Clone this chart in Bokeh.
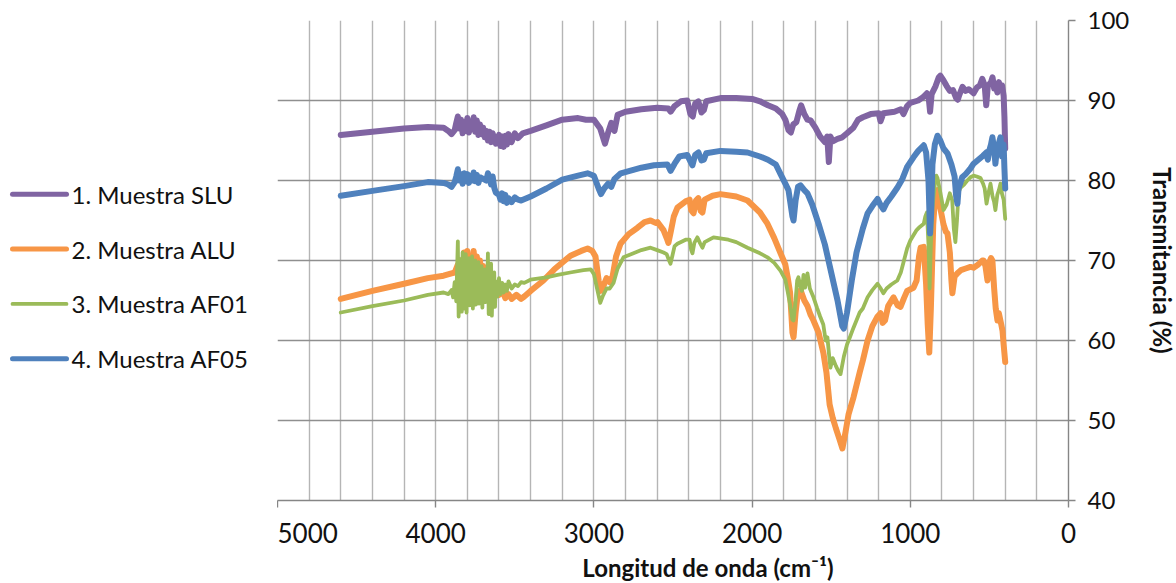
from bokeh.plotting import figure
from bokeh.layouts import row
from bokeh.models import Range1d, SingleIntervalTicker
from bokeh.core.properties import value
from bokeh.embed import file_html
from bokeh.resources import INLINE

# ---------------- data ----------------
labels = ["1. Muestra SLU", "2. Muestra ALU", "3. Muestra AF01", "4. Muestra AF05"]
colors = ["#8064A2", "#F79646", "#9BBB59", "#4F81BD"]

slu_x = [4600, 4400, 4200, 4050, 3950, 3920, 3900, 3880, 3870, 3860, 3850, 3840, 3830, 3820, 3810, 3800,
         3790, 3780, 3770, 3760, 3750, 3740, 3730, 3720, 3710, 3700, 3690, 3680, 3670, 3660, 3650, 3640,
         3620, 3600, 3590, 3580, 3570, 3560, 3550, 3540, 3520, 3500, 3480, 3450, 3400, 3300, 3200, 3100,
         3050, 3000, 2960, 2930, 2910, 2890, 2870, 2850, 2800, 2700, 2600, 2530, 2515, 2490, 2450, 2410,
         2390, 2375, 2360, 2340, 2320, 2305, 2290, 2200, 2100, 2000, 1950, 1900, 1850, 1810, 1790, 1770,
         1755, 1740, 1720, 1700, 1690, 1670, 1650, 1630, 1600, 1570, 1540, 1525, 1515, 1505, 1490, 1460,
         1430, 1400, 1360, 1330, 1300, 1250, 1200, 1188, 1170, 1100, 1060, 1043, 1020, 1000, 950, 920,
         895, 885, 875, 865, 840, 820, 810, 790, 770, 750, 730, 710, 700, 690, 670, 650, 630, 600, 580,
         560, 545, 530, 520, 510, 490, 480, 470, 460, 450, 440, 430, 420, 410, 405, 400]
slu_y = [85.7, 86.1, 86.5, 86.7, 86.6, 86.2, 85.8, 86.3, 87.2, 88.0, 86.5, 87.6, 85.9, 87.3, 86.2, 87.8,
         86.0, 87.2, 86.4, 87.9, 86.1, 87.5, 85.7, 87.0, 85.8, 86.6, 85.4, 86.2, 85.0, 86.1, 84.8, 85.9,
         84.6, 85.7, 84.3, 85.5, 84.2, 85.6, 84.5, 85.8, 84.8, 85.9, 85.3, 85.9, 86.2, 86.9, 87.6, 87.8,
         87.6, 87.6, 86.5, 84.6, 86.0, 87.2, 86.2, 88.2, 88.6, 88.9, 89.1, 89.0, 88.6, 89.3, 89.9, 90.0,
         88.3, 88.0, 89.6, 89.9, 88.5, 88.8, 89.9, 90.3, 90.3, 90.2, 89.9, 89.4, 89.0, 88.3, 87.6, 86.3,
         86.0, 87.0, 87.3, 88.8, 89.4, 88.3, 87.6, 87.5, 86.6, 85.5, 84.8, 85.5, 82.3, 85.5, 84.9, 85.2,
         85.4, 85.9, 86.6, 87.6, 87.9, 88.3, 88.4, 87.4, 88.4, 88.6, 88.9, 88.3, 89.3, 89.7, 90.0, 90.4,
         90.9, 90.6, 88.6, 90.8, 91.8, 92.9, 93.1, 92.5, 91.8, 91.2, 91.3, 90.3, 90.1, 90.7, 91.7, 91.2,
         91.4, 90.9, 91.6, 91.9, 92.7, 91.9, 89.4, 91.8, 92.3, 92.9, 91.5, 92.0, 91.0, 92.3, 91.4, 91.9,
         90.6, 88.0, 84.0]

alu_x = [4600, 4400, 4200, 4050, 3950, 3900, 3880, 3860, 3850, 3840, 3830, 3820, 3810, 3800, 3790, 3780,
         3770, 3760, 3750, 3740, 3730, 3720, 3710, 3700, 3690, 3680, 3670, 3660, 3640, 3620, 3600, 3580,
         3560, 3540, 3520, 3490, 3460, 3440, 3400, 3319, 3250, 3148, 3080, 3040, 3010, 2990, 2970, 2958,
         2940, 2920, 2900, 2882, 2860, 2832, 2780, 2724, 2680, 2642, 2610, 2598, 2560, 2540, 2529, 2515,
         2495, 2472, 2420, 2395, 2385, 2370, 2355, 2340, 2325, 2314, 2300, 2250, 2200, 2100, 2029, 1950,
         1903, 1860, 1820, 1790, 1776, 1760, 1745, 1738, 1725, 1710, 1694, 1670, 1650, 1630, 1612, 1580,
         1549, 1530, 1510, 1490, 1470, 1450, 1429, 1410, 1390, 1359, 1320, 1300, 1270, 1240, 1207, 1188,
         1175, 1160, 1140, 1106, 1080, 1062, 1040, 1020, 980, 960, 945, 935, 915, 900, 890, 880, 870, 855,
         845, 828, 810, 790, 775, 765, 750, 740, 734, 720, 702, 680, 650, 620, 600, 570, 545, 537, 525,
         512, 500, 490, 481, 470, 460, 449, 440, 425, 417, 410, 400]
alu_y = [65.2, 66.2, 67.1, 67.8, 68.1, 68.4, 68.5, 69.5, 68.2, 70.0, 68.0, 71.0, 68.8, 71.2, 68.4, 70.6,
         68.0, 71.2, 68.5, 70.5, 67.6, 70.0, 67.4, 69.3, 67.2, 68.4, 66.8, 67.8, 66.4, 66.9, 65.7, 66.3,
         65.3, 65.8, 65.2, 65.7, 65.2, 65.5, 66.2, 67.5, 68.9, 70.6, 71.2, 71.5, 71.2, 70.5, 67.5, 66.2,
         66.8, 67.8, 67.3, 68.0, 70.5, 72.1, 73.3, 74.1, 74.8, 75.0, 74.7, 74.8, 73.8, 72.8, 72.2, 73.5,
         75.5, 76.6, 77.4, 77.6, 76.3, 75.9, 77.5, 77.8, 76.2, 76.0, 77.6, 78.1, 78.3, 78.0, 77.5, 76.0,
         74.6, 72.8, 70.9, 69.5, 68.0, 66.0, 61.0, 60.4, 63.5, 66.0, 66.3, 65.0, 64.3, 63.2, 62.5, 61.0,
         58.4, 56.0, 52.0, 50.3, 49.0, 47.8, 46.5, 48.5, 50.8, 52.9, 56.0, 57.5, 60.0, 61.8, 63.0, 63.4,
         62.2, 62.5, 64.3, 65.4, 64.4, 64.2, 65.3, 66.2, 66.6, 67.5, 70.5, 71.6, 71.7, 67.0, 62.0, 58.5,
         64.0, 74.5, 77.5, 78.8, 76.5, 74.5, 73.6, 73.4, 71.0, 67.5, 65.9, 68.0, 68.4, 68.8, 69.0, 69.2,
         69.1, 69.5, 70.0, 70.0, 69.3, 67.5, 69.8, 70.3, 70.0, 66.5, 64.0, 62.5, 63.4, 62.0, 61.2, 59.5,
         57.3]

af01_x = [4600, 4400, 4200, 4050, 3950, 3920, 3900, 3890, 3880, 3870, 3860, 3855, 3850, 3845, 3840, 3835,
          3830, 3825, 3820, 3815, 3810, 3805, 3800, 3795, 3790, 3785, 3780, 3775, 3770, 3765, 3760, 3755,
          3750, 3745, 3740, 3735, 3730, 3725, 3720, 3715, 3710, 3705, 3700, 3695, 3690, 3685, 3680, 3675,
          3670, 3665, 3660, 3655, 3650, 3645, 3640, 3635, 3630, 3625, 3620, 3610, 3600, 3590, 3580, 3570,
          3560, 3550, 3540, 3520, 3500, 3480, 3460, 3440, 3401, 3300, 3230, 3150, 3066, 3020, 3000, 2980,
          2960, 2945, 2920, 2900, 2876, 2850, 2813, 2750, 2700, 2642, 2600, 2560, 2540, 2525, 2516, 2505,
          2490, 2472, 2420, 2395, 2385, 2377, 2365, 2346, 2330, 2314, 2300, 2244, 2150, 2100, 2029, 1950,
          1903, 1860, 1820, 1790, 1776, 1760, 1745, 1738, 1725, 1715, 1707, 1695, 1685, 1675, 1665, 1650,
          1635, 1612, 1590, 1570, 1550, 1535, 1524, 1510, 1505, 1490, 1470, 1455, 1441, 1420, 1400, 1380,
          1359, 1320, 1300, 1270, 1240, 1207, 1190, 1170, 1150, 1120, 1082, 1060, 1040, 1020, 1000, 960,
          940, 915, 905, 895, 885, 878, 870, 860, 845, 835, 828, 810, 790, 770, 750, 735, 725, 715, 705,
          695, 683, 660, 640, 620, 600, 580, 556, 540, 530, 518, 505, 493, 480, 470, 462, 450, 440, 430,
          420, 410, 400]
af01_y = [63.5, 64.3, 65.0, 65.7, 66.0, 65.8, 66.3, 65.4, 67.3, 64.9, 72.4, 63.0, 70.2, 64.2, 68.9, 63.6,
          71.0, 65.0, 69.5, 64.0, 70.8, 63.5, 68.5, 65.5, 70.3, 64.4, 69.0, 65.1, 70.5, 64.0, 69.4, 65.3,
          70.0, 64.5, 68.5, 65.0, 69.8, 64.6, 68.2, 65.4, 69.3, 64.1, 68.0, 65.3, 68.9, 64.8, 67.6, 65.7,
          70.9, 63.3, 68.3, 64.0, 69.6, 63.1, 67.7, 65.1, 68.5, 64.2, 67.4, 65.5, 67.8, 65.8, 67.2, 66.0,
          67.0, 66.2, 67.4, 66.5, 67.0, 66.8, 67.3, 67.2, 67.6, 67.9, 68.2, 68.5, 68.8, 68.9, 68.3, 66.5,
          64.7, 65.5, 66.5, 66.5, 67.2, 69.0, 70.4, 70.9, 71.3, 71.6, 71.3, 71.0, 70.8, 70.0, 69.6, 70.5,
          71.8, 72.1, 72.6, 72.6, 71.3, 70.9, 72.2, 72.9, 72.2, 71.6, 72.3, 72.9, 72.6, 72.3, 71.6, 70.9,
          70.4, 69.7, 68.7, 67.6, 66.2, 64.5, 62.6, 62.5, 65.0, 67.5, 67.9, 66.8, 66.2, 68.2, 66.6, 68.4,
          66.5, 65.4, 64.1, 63.0, 62.0, 60.0, 60.4, 57.5, 56.6, 57.8, 56.8, 56.2, 55.8, 58.0, 59.5, 60.5,
          61.6, 63.5, 64.0, 65.4, 66.3, 67.1, 66.6, 65.9, 66.5, 67.0, 67.5, 68.5, 70.0, 71.5, 72.5, 73.8,
          74.2, 74.6, 75.5, 76.0, 72.0, 66.5, 72.0, 76.5, 79.5, 80.6, 80.3, 78.5, 76.3, 77.0, 78.4, 77.5,
          74.0, 72.3, 75.0, 78.5, 79.1, 79.5, 80.0, 80.4, 80.6, 80.5, 80.3, 79.6, 79.0, 77.1, 78.5, 79.6,
          78.0, 77.3, 76.3, 78.2, 78.8, 79.6, 78.3, 77.6, 75.2]

af05_x = [4600, 4400, 4200, 4050, 3950, 3920, 3900, 3880, 3870, 3860, 3850, 3840, 3830, 3820, 3810, 3800,
          3790, 3780, 3770, 3760, 3750, 3740, 3730, 3720, 3700, 3680, 3670, 3660, 3650, 3640, 3630, 3620,
          3600, 3590, 3580, 3570, 3560, 3550, 3540, 3520, 3500, 3480, 3460, 3400, 3300, 3200, 3100, 3040,
          3000, 2970, 2955, 2935, 2910, 2890, 2870, 2830, 2700, 2620, 2535, 2515, 2490, 2460, 2410, 2390,
          2377, 2360, 2339, 2320, 2305, 2290, 2200, 2100, 2029, 1950, 1900, 1850, 1820, 1790, 1770, 1745,
          1738, 1725, 1710, 1694, 1670, 1650, 1620, 1580, 1540, 1500, 1460, 1430, 1420, 1400, 1370, 1340,
          1300, 1270, 1240, 1207, 1190, 1170, 1150, 1120, 1082, 1050, 1020, 980, 950, 915, 900, 885, 875,
          868, 860, 845, 828, 810, 790, 765, 740, 720, 710, 702, 695, 672, 650, 620, 600, 570, 540, 520,
          510, 500, 490, 481, 470, 462, 455, 445, 430, 420, 410, 405, 400]
af05_y = [78.1, 78.7, 79.3, 79.8, 79.7, 79.5, 79.2, 79.8, 80.5, 81.4, 80.0, 80.8, 79.6, 80.9, 79.9, 80.8,
          79.7, 80.6, 80.0, 81.0, 79.9, 80.7, 79.7, 80.4, 80.2, 80.0, 80.9, 80.3, 79.5, 80.5, 79.1, 78.5,
          78.2, 77.6, 78.4, 77.4, 78.2, 77.2, 77.8, 77.3, 77.9, 77.6, 77.5, 78.0, 79.0, 80.1, 80.6, 80.9,
          80.6, 79.0, 78.3, 79.0, 79.6, 79.2, 80.2, 80.9, 81.6, 81.9, 82.0, 81.2, 82.1, 83.0, 83.2, 82.4,
          81.9, 83.2, 83.5, 82.5, 82.6, 83.4, 83.7, 83.6, 83.5, 83.0, 82.6, 82.0, 80.8, 79.6, 78.8, 75.5,
          75.0, 77.5, 79.2, 79.4, 78.8, 78.4, 77.0, 74.6, 72.0, 68.5, 65.0, 61.8, 61.5, 63.5, 67.5, 71.0,
          74.0, 75.9, 76.8, 77.7, 77.0, 76.4, 77.2, 78.0, 79.1, 80.2, 81.7, 82.9, 83.7, 84.4, 83.5, 80.0,
          73.4, 76.0, 82.0, 84.5, 85.6, 85.0, 84.0, 83.4, 82.0, 80.5, 78.0, 77.1, 79.0, 80.4, 80.8, 81.5,
          82.1, 82.6, 83.1, 83.5, 82.6, 83.8, 84.5, 85.4, 83.9, 82.1, 83.5, 84.3, 85.4, 83.0, 84.5, 81.5,
          79.0]

series = [(slu_x, slu_y, 6), (alu_x, alu_y, 6), (af01_x, af01_y, 3.8), (af05_x, af05_y, 6)]

# ---------------- main figure ----------------
FONT = "Lato"
p = figure(frame_width=791, frame_height=480, min_border_left=0, min_border_right=108,
           min_border_top=20, min_border_bottom=83, output_backend="svg", toolbar_location=None,
           x_range=Range1d(5000, 0), y_range=Range1d(40, 100), y_axis_location="right")
p.outline_line_color = None
p.background_fill_color = "white"
p.border_fill_color = "white"

p.xaxis.ticker = SingleIntervalTicker(interval=1000, num_minor_ticks=0)
p.yaxis.ticker = SingleIntervalTicker(interval=10, num_minor_ticks=0)
p.xgrid[0].ticker = SingleIntervalTicker(interval=200, num_minor_ticks=0)
p.xgrid.grid_line_color = "#b5b5b5"
p.xgrid.grid_line_width = 1.4
p.ygrid.grid_line_color = "#8f8f8f"
p.ygrid.grid_line_width = 1.4

for ax in (p.xaxis, p.yaxis):
    ax.axis_line_color = "#868686"
    ax.axis_line_width = 1.4
    ax.major_tick_line_color = "#868686"
    ax.major_tick_line_width = 1.4
    ax.major_tick_in = 0
    ax.major_tick_out = 7
    ax.minor_tick_line_color = None
    ax.major_label_text_font = FONT
    ax.major_label_text_color = "#111111"
    ax.axis_label_text_font = FONT
    ax.axis_label_text_font_size = "24px"
    ax.axis_label_text_font_style = "bold"
    ax.axis_label_text_color = "#111111"

p.xaxis.major_label_text_font_size = "26px"
p.yaxis.major_label_text_font_size = "24px"
p.xaxis.axis_label = "\u00a0" * 12 + "Longitud de onda (cm\u207b\u00b9)"
p.xaxis.major_label_standoff = 15
p.xaxis.axis_label_standoff = 7
p.yaxis.axis_label = "Transmitancia (%)"
p.yaxis.major_label_standoff = 12
p.yaxis.axis_label_standoff = 16

for (xs, ys, w), c in zip(series, colors):
    p.line(xs, ys, line_color=c, line_width=w, line_join="round", line_cap="round")

# ---------------- legend panel (y in screen pixels; frame aligned with main frame) ----------------
LW = 277
lg = figure(width=LW, height=583, min_border=0, min_border_top=20, min_border_bottom=83,
            output_backend="svg", toolbar_location=None,
            x_range=Range1d(0, LW), y_range=Range1d(500, 20))
lg.outline_line_color = None
lg.axis.visible = False
lg.grid.visible = False
lg.border_fill_color = "white"
lg.background_fill_color = "white"

top_entry, step = 194, 55
entry_y = [top_entry + i * step for i in range(len(labels))]
for i, (c, (xs, ys, w)) in enumerate(zip(colors, series)):
    lg.segment(x0=[12], y0=[entry_y[i]], x1=[66], y1=[entry_y[i]], line_color=c,
               line_width=min(w, 5), line_cap="round")
lg.text(x=[71] * len(labels), y=entry_y, text=labels, text_font=value(FONT),
        text_font_size="24px", text_baseline="middle", text_align="left", text_color="#111111")

layout = row(lg, p)
open("out.html", "w").write(file_html(layout, INLINE))
